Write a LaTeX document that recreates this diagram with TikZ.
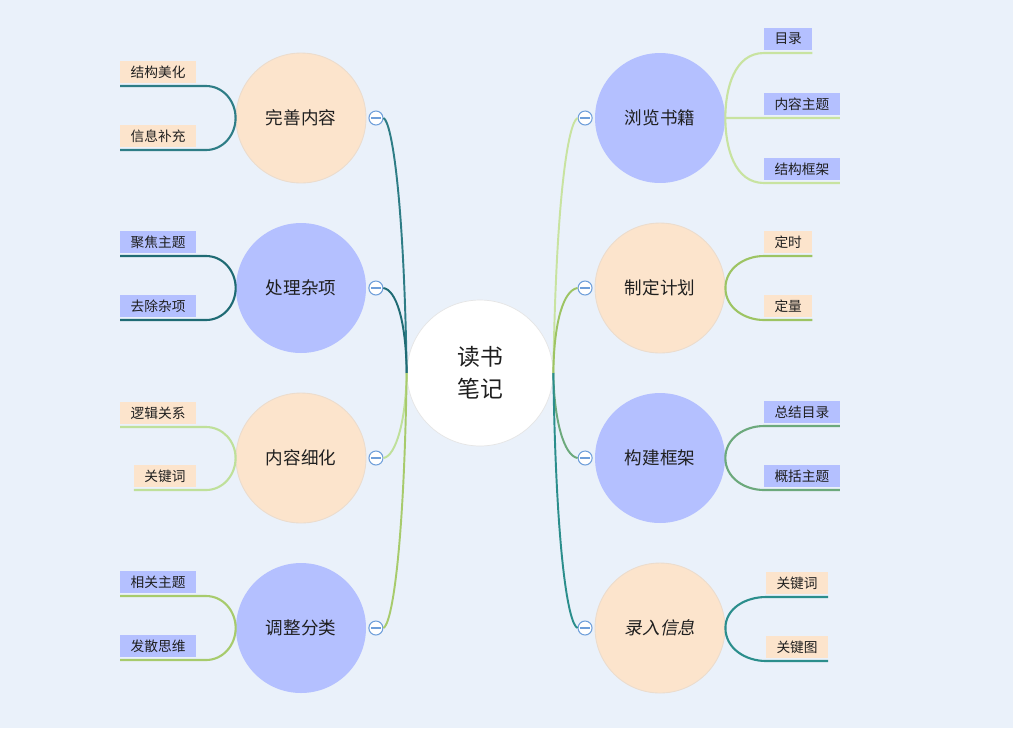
\documentclass[tikz,border=0pt]{standalone}
\usepackage{fontspec}
\setmainfont{Noto Sans CJK SC}
\newfontfamily\cjkslant[FakeSlant=0.2]{Noto Sans CJK SC}
\usepackage{xcolor}
\usetikzlibrary{positioning}
\definecolor{bgblue}{HTML}{EAF1FA}
\definecolor{peachfill}{HTML}{FCE4CC}
\definecolor{peachedge}{HTML}{EBDCCD}
\definecolor{lavfill}{HTML}{B4C0FF}
\definecolor{foldblue}{HTML}{6F9FDA}
\definecolor{lineA}{HTML}{2E7D86}
\definecolor{lineB}{HTML}{1F6B74}
\definecolor{lineC}{HTML}{BFE09A}
\definecolor{lineD}{HTML}{A7CB6C}
\definecolor{lineE}{HTML}{C8E3A0}
\definecolor{lineF}{HTML}{9DC463}
\definecolor{lineG}{HTML}{6CA97C}
\definecolor{lineH}{HTML}{2B8E8C}
\tikzset{
	topic/.style={circle, minimum size=2.6cm, inner sep=0pt, text=black!88,
		font=\fontsize{10}{12}\selectfont},
	peachtopic/.style={topic, fill=peachfill, draw=peachedge, line width=0.5pt},
	lavtopic/.style={topic, fill=lavfill},
	leaf/.style={inner xsep=0.21cm, inner ysep=0pt, minimum height=0.44cm, outer sep=0pt,
		text=black!88, font=\fontsize{7.8}{9}\selectfont},
	fold/.style={circle, draw=foldblue, fill=white, minimum size=0.28cm, inner sep=0pt,
		line width=0.6pt, path picture={
			\draw[foldblue, line width=0.6pt] ([xshift=-0.1cm]path picture bounding box.center)
				-- ([xshift=0.1cm]path picture bounding box.center);}},
	branch/.style={line width=1.1pt},
	twig/.style={line width=1.2pt}
}

\begin{document}
\begin{tikzpicture}[x=0.02cm, y=-0.02cm]
		\fill[bgblue] (0,0) rectangle (1013,728);
		\useasboundingbox (0,0) rectangle (1013,728);
		\node[circle, draw=black!10, fill=white, minimum size=2.92cm, align=center,
			text=black!88, font=\fontsize{13}{18}\selectfont] (root) at (480,373) {读书\\笔记};
		\node[peachtopic] (perfect) at (301,118) {完善内容};
		\node[lavtopic] (sundry) at (301,288) {处理杂项};
		\node[peachtopic] (refine) at (301,458) {内容细化};
		\node[lavtopic] (sort) at (301,628) {调整分类};
		\node[lavtopic] (browse) at (660,118) {浏览书籍};
		\node[peachtopic] (plan) at (660,288) {制定计划};
		\node[lavtopic] (frame) at (660,458) {构建框架};
		\node[peachtopic] (enter) at (660,628) {\cjkslant 录入信息};
		\node[fold, right=0.04cm of perfect] (foldA) {};
		\node[fold, right=0.04cm of sundry] (foldB) {};
		\node[fold, right=0.04cm of refine] (foldC) {};
		\node[fold, right=0.04cm of sort] (foldD) {};
		\node[fold, left=0.04cm of browse] (foldE) {};
		\node[fold, left=0.04cm of plan] (foldF) {};
		\node[fold, left=0.04cm of frame] (foldG) {};
		\node[fold, left=0.04cm of enter] (foldH) {};
		\draw[branch, lineA] (root.west) .. controls (404,200) and (392,122) .. (foldA.east);
		\draw[branch, lineB] (root.west) .. controls (406,320) and (396,290) .. (foldB.east);
		\draw[branch, lineC] (root.west) .. controls (406,420) and (396,456) .. (foldC.east);
		\draw[branch, lineD] (root.west) .. controls (404,550) and (392,624) .. (foldD.east);
		\draw[branch, lineE] (root.east) .. controls (556,200) and (568,122) .. (foldE.west);
		\draw[branch, lineF] (root.east) .. controls (554,320) and (564,290) .. (foldF.west);
		\draw[branch, lineG] (root.east) .. controls (554,420) and (564,456) .. (foldG.west);
		\draw[branch, lineH] (root.east) .. controls (556,550) and (568,624) .. (foldH.west);
		\node[leaf, fill=peachfill, anchor=south east] (beautify) at (196,83) {结构美化};
		\node[leaf, fill=peachfill, anchor=south east] (supplement) at (196,147) {信息补充};
		\node[leaf, fill=lavfill, anchor=south east] (focus) at (196,253) {聚焦主题};
		\node[leaf, fill=lavfill, anchor=south east] (remove) at (196,317) {去除杂项};
		\node[leaf, fill=peachfill, anchor=south east] (logic) at (196,424) {逻辑关系};
		\node[leaf, fill=peachfill, anchor=south east] (keywordL) at (196,487) {关键词};
		\node[leaf, fill=lavfill, anchor=south east] (related) at (196,593) {相关主题};
		\node[leaf, fill=lavfill, anchor=south east] (diverge) at (196,657) {发散思维};
		\node[leaf, fill=lavfill, anchor=south west] (toc) at (764,50) {目录};
		\node[leaf, fill=lavfill, anchor=south west] (theme) at (764,115) {内容主题};
		\node[leaf, fill=lavfill, anchor=south west] (outline) at (764,180) {结构框架};
		\node[leaf, fill=peachfill, anchor=south west] (timed) at (764,253) {定时};
		\node[leaf, fill=peachfill, anchor=south west] (amount) at (764,317) {定量};
		\node[leaf, fill=lavfill, anchor=south west] (summary) at (764,423) {总结目录};
		\node[leaf, fill=lavfill, anchor=south west] (gist) at (764,487) {概括主题};
		\node[leaf, fill=peachfill, anchor=south west] (keywordR) at (766,594) {关键词};
		\node[leaf, fill=peachfill, anchor=south west] (keyimage) at (766,658) {关键图};
		\draw[twig, lineA] (perfect.west) to[out=90, in=0] ([xshift=0.2cm, yshift=-0.06cm]beautify.south east) -- ([yshift=-0.06cm]beautify.south west);
		\draw[twig, lineA] (perfect.west) to[out=-90, in=0] ([xshift=0.2cm, yshift=-0.06cm]supplement.south east) -- ([yshift=-0.06cm]supplement.south west);
		\draw[twig, lineB] (sundry.west) to[out=90, in=0] ([xshift=0.2cm, yshift=-0.06cm]focus.south east) -- ([yshift=-0.06cm]focus.south west);
		\draw[twig, lineB] (sundry.west) to[out=-90, in=0] ([xshift=0.2cm, yshift=-0.06cm]remove.south east) -- ([yshift=-0.06cm]remove.south west);
		\draw[twig, lineC] (refine.west) to[out=90, in=0] ([xshift=0.2cm, yshift=-0.06cm]logic.south east) -- ([yshift=-0.06cm]logic.south west);
		\draw[twig, lineC] (refine.west) to[out=-90, in=0] ([xshift=0.2cm, yshift=-0.06cm]keywordL.south east) -- ([yshift=-0.06cm]keywordL.south west);
		\draw[twig, lineD] (sort.west) to[out=90, in=0] ([xshift=0.2cm, yshift=-0.06cm]related.south east) -- ([yshift=-0.06cm]related.south west);
		\draw[twig, lineD] (sort.west) to[out=-90, in=0] ([xshift=0.2cm, yshift=-0.06cm]diverge.south east) -- ([yshift=-0.06cm]diverge.south west);
		\draw[twig, lineE] (browse.east) to[out=90, in=180] ([yshift=-0.06cm]toc.south west) -- ([yshift=-0.06cm]toc.south east);
		\draw[twig, lineE] (browse.east) -- ([yshift=-0.06cm]theme.south east);
		\draw[twig, lineE] (browse.east) to[out=-90, in=180] ([yshift=-0.06cm]outline.south west) -- ([yshift=-0.06cm]outline.south east);
		\draw[twig, lineF] (plan.east) to[out=90, in=180] ([yshift=-0.06cm]timed.south west) -- ([yshift=-0.06cm]timed.south east);
		\draw[twig, lineF] (plan.east) to[out=-90, in=180] ([yshift=-0.06cm]amount.south west) -- ([yshift=-0.06cm]amount.south east);
		\draw[twig, lineG] (frame.east) to[out=90, in=180] ([yshift=-0.06cm]summary.south west) -- ([yshift=-0.06cm]summary.south east);
		\draw[twig, lineG] (frame.east) to[out=-90, in=180] ([yshift=-0.06cm]gist.south west) -- ([yshift=-0.06cm]gist.south east);
		\draw[twig, lineH] (enter.east) to[out=90, in=180] ([yshift=-0.06cm]keywordR.south west) -- ([yshift=-0.06cm]keywordR.south east);
		\draw[twig, lineH] (enter.east) to[out=-90, in=180] ([yshift=-0.06cm]keyimage.south west) -- ([yshift=-0.06cm]keyimage.south east);
	\end{tikzpicture}
\end{document}
